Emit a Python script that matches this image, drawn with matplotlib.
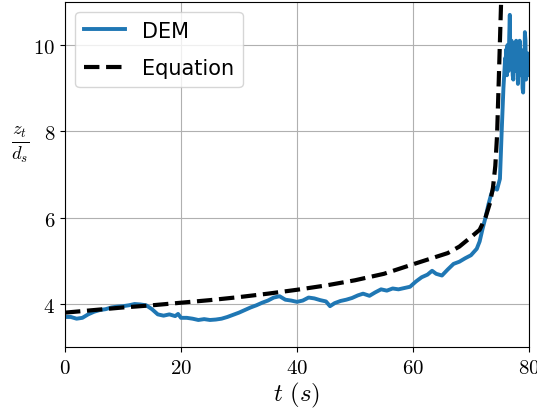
import matplotlib
matplotlib.use('Agg')
import matplotlib.pyplot as plt

plt.rcParams['mathtext.fontset'] = 'cm'

# DEM scour depth
dem_t = [0, 1, 2, 3, 4, 5, 6, 7, 8, 9, 10, 11, 12, 13, 14, 15, 16, 17, 18, 19, 19.5,
         20, 21, 22, 23, 24, 25, 26, 27, 28, 29, 30, 31, 32, 33, 34, 35, 36, 37, 38, 39,
         40, 41, 42, 43, 44, 45, 45.7, 46.5, 47.5, 48.5, 49.5, 50.5, 51.4, 52.5, 53.5,
         54.5, 55.5, 56.5, 57.5, 58.5, 59.5, 60.5, 61.5, 62.5, 63.3, 64, 65, 66, 67, 68,
         69, 70, 71, 71.5, 72, 72.5, 73, 73.5, 74, 74.5, 75, 75.3, 75.6, 75.9, 76.0, 76.1,
         76.2, 76.3, 76.4, 76.5, 76.6, 76.7, 76.8, 76.9, 77.0, 77.1, 77.2, 77.3, 77.4,
         77.5, 77.6, 77.7, 77.8, 77.9, 78.0, 78.1, 78.2, 78.3, 78.4, 78.5, 78.6, 78.7,
         78.8, 78.9, 79.0, 79.1, 79.2, 79.3, 79.4, 79.5, 79.6, 79.7, 79.8, 79.9, 80]
dem_z = [3.70, 3.70, 3.66, 3.68, 3.76, 3.82, 3.86, 3.88, 3.92, 3.94, 3.95, 3.97, 4.00,
         3.99, 3.97, 3.88, 3.76, 3.73, 3.76, 3.72, 3.77, 3.68, 3.68, 3.66, 3.63, 3.65,
         3.63, 3.64, 3.66, 3.70, 3.75, 3.80, 3.86, 3.92, 3.97, 4.03, 4.08, 4.15, 4.18,
         4.10, 4.08, 4.05, 4.08, 4.15, 4.13, 4.09, 4.06, 3.95, 4.02, 4.07, 4.10, 4.14,
         4.20, 4.24, 4.19, 4.27, 4.34, 4.31, 4.36, 4.34, 4.37, 4.40, 4.52, 4.62, 4.68,
         4.77, 4.70, 4.66, 4.80, 4.93, 4.98, 5.06, 5.13, 5.28, 5.45, 5.74, 6.00, 6.30,
         6.55, 6.70, 6.65, 6.90, 8.00, 9.00, 9.70, 9.40, 9.90, 9.30, 10.00, 9.50, 9.40,
         10.20, 10.70, 9.60, 9.50, 10.10, 9.80, 9.30, 9.20, 10.00, 9.60, 9.90, 9.40,
         10.10, 9.50, 9.70, 9.10, 9.90, 9.60, 10.10, 9.30, 9.90, 9.70, 9.80, 9.00, 8.90,
         9.60, 9.40, 10.30, 10.10, 9.20, 9.50, 9.70, 9.30, 9.60, 9.80]

# Equation curve
eq_t = [0, 5, 10, 15, 20, 25, 30, 35, 40, 45, 50, 55, 60, 63, 66, 68, 70, 71.5, 72.5,
        73.3, 73.8, 74.2, 74.5, 74.8, 75.0, 75.2]
eq_z = [3.80, 3.86, 3.92, 3.97, 4.03, 4.09, 4.16, 4.24, 4.33, 4.43, 4.55, 4.70, 4.92,
        5.05, 5.18, 5.33, 5.55, 5.72, 6.00, 6.35, 6.70, 7.20, 7.90, 9.20, 10.10, 11.00]

fig, ax = plt.subplots(figsize=(5.37, 4.14), dpi=100)
fig.subplots_adjust(left=0.121, right=0.985, top=0.993, bottom=0.159)

ax.plot(dem_t, dem_z, color='#1f77b4', lw=2.8, label='DEM')
ax.plot(eq_t, eq_z, color='black', lw=3, ls='--', label='Equation')

ax.set_xlim(0, 80)
ax.set_ylim(3, 11)
ax.set_xticks([0, 20, 40, 60, 80])
ax.set_yticks([4, 6, 8, 10])
ax.set_xticklabels([f'${v}$' for v in [0, 20, 40, 60, 80]])
ax.set_yticklabels([f'${v}$' for v in [4, 6, 8, 10]])
ax.tick_params(labelsize=15)
ax.grid(True, color='#b0b0b0', lw=0.8)

ax.set_xlabel(r'$t\ (s)$', fontsize=18, labelpad=2)
ax.set_ylabel(r'$\frac{z_t}{d_s}$', fontsize=19, rotation=0, va='center')
ax.yaxis.set_label_coords(-0.095, 0.59)

ax.legend(loc='upper left', fontsize=15, labelspacing=0.85)

fig.savefig('out.png', dpi=100)
